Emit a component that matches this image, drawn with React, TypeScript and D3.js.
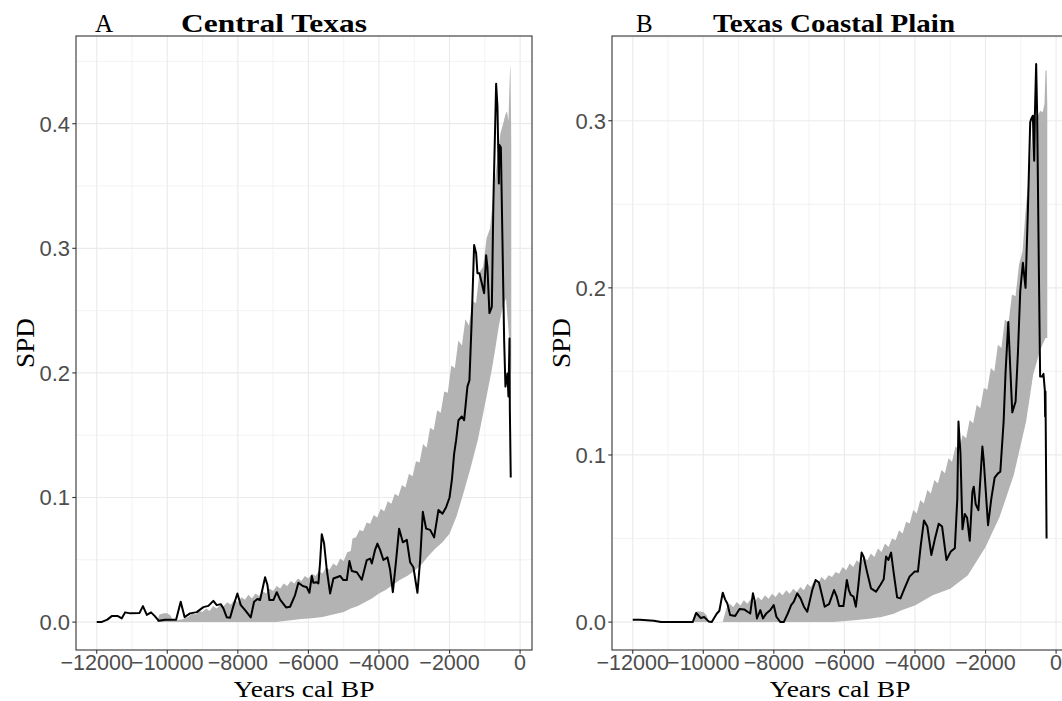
import React from 'react';
import * as d3 from 'd3';

// ---------- data ----------
const xMajorTicks = [-12000, -10000, -8000, -6000, -4000, -2000, 0];
const xMinorTicks = [-11000, -9000, -7000, -5000, -3000, -1000];
const ctYMajor = [0, 0.1, 0.2, 0.3, 0.4];
const ctYMinor = [0.05, 0.15, 0.25, 0.35, 0.45];
const tcpYMajor = [0, 0.1, 0.2, 0.3];
const tcpYMinor = [0.05, 0.15, 0.25, 0.35];

// Central Texas SPD (years cal BP, SPD)
const ctLine: [number, number][] = [
  [-12000, 0], [-11870, 0], [-11700, 0.002], [-11575, 0.0048], [-11400, 0.0048], [-11290, 0.003],
  [-11195, 0.0078], [-11050, 0.007], [-10790, 0.0072], [-10690, 0.0128], [-10580, 0.0058],
  [-10460, 0.0078], [-10360, 0.005], [-10240, 0.001], [-10060, 0.0019], [-9750, 0.0019],
  [-9620, 0.0163], [-9510, 0.004], [-9355, 0.007], [-9165, 0.008], [-8977, 0.012], [-8836, 0.013],
  [-8694, 0.017], [-8598, 0.0136], [-8485, 0.0144], [-8410, 0.011], [-8314, 0.0038], [-8220, 0.0035],
  [-8127, 0.0128], [-8013, 0.023], [-7917, 0.0136], [-7795, 0.0096], [-7634, 0.0038], [-7540, 0.0163],
  [-7446, 0.0185], [-7370, 0.0177], [-7228, 0.036], [-7163, 0.03], [-7106, 0.0177], [-6993, 0.0177],
  [-6897, 0.024], [-6803, 0.018], [-6633, 0.0118], [-6520, 0.0123], [-6378, 0.0217], [-6284, 0.0316],
  [-6160, 0.029], [-6046, 0.028], [-5972, 0.0235], [-5904, 0.037], [-5859, 0.0316], [-5762, 0.032],
  [-5717, 0.031], [-5669, 0.048], [-5621, 0.0706], [-5555, 0.063], [-5479, 0.042], [-5385, 0.023],
  [-5291, 0.035], [-5195, 0.036], [-5102, 0.037], [-5008, 0.0337], [-4912, 0.0337], [-4838, 0.049],
  [-4770, 0.041], [-4628, 0.04], [-4487, 0.034], [-4345, 0.0498], [-4251, 0.051], [-4203, 0.047],
  [-4110, 0.058], [-4044, 0.063], [-3968, 0.058], [-3874, 0.0498], [-3760, 0.052], [-3684, 0.042],
  [-3607, 0.024], [-3514, 0.0498], [-3429, 0.075], [-3324, 0.064], [-3211, 0.066], [-3117, 0.048],
  [-3024, 0.044], [-2910, 0.0235], [-2833, 0.0498], [-2757, 0.0885], [-2664, 0.075], [-2550, 0.074],
  [-2437, 0.068], [-2314, 0.09], [-2200, 0.087], [-2100, 0.092], [-2000, 0.1], [-1930, 0.115],
  [-1870, 0.135], [-1813, 0.146], [-1747, 0.162], [-1651, 0.165], [-1586, 0.162], [-1493, 0.189],
  [-1436, 0.194], [-1368, 0.245], [-1303, 0.3026], [-1246, 0.296], [-1209, 0.28], [-1152, 0.28],
  [-1085, 0.272], [-1019, 0.264], [-963, 0.2945], [-926, 0.285], [-869, 0.248], [-801, 0.253],
  [-756, 0.339], [-679, 0.432], [-642, 0.414], [-602, 0.352], [-585, 0.383], [-545, 0.381],
  [-500, 0.3066], [-452, 0.226], [-415, 0.189], [-358, 0.1996], [-330, 0.181], [-300, 0.2277],
  [-290, 0.17], [-265, 0.116],
];
const ctUpper: [number, number][] = [
  [-10300, 0], [-10220, 0.006], [-10100, 0.007], [-10000, 0.007], [-9900, 0.005], [-9850, 0.001],
  [-9600, 0.002], [-9500, 0.003], [-9400, 0.004], [-9300, 0.007], [-9200, 0.006], [-9100, 0.009],
  [-9000, 0.008], [-8900, 0.011], [-8800, 0.009], [-8700, 0.013], [-8600, 0.011], [-8500, 0.014],
  [-8400, 0.013], [-8300, 0.016], [-8200, 0.014], [-8100, 0.018], [-8000, 0.016], [-7900, 0.02],
  [-7800, 0.018], [-7700, 0.022], [-7600, 0.019], [-7500, 0.023], [-7400, 0.021], [-7300, 0.025],
  [-7200, 0.023], [-7100, 0.027], [-7000, 0.025], [-6900, 0.029], [-6800, 0.027], [-6700, 0.031],
  [-6600, 0.029], [-6500, 0.033], [-6400, 0.031], [-6300, 0.035], [-6200, 0.033], [-6100, 0.037],
  [-6000, 0.035], [-5900, 0.039], [-5800, 0.037], [-5700, 0.041], [-5600, 0.039], [-5500, 0.044],
  [-5400, 0.042], [-5300, 0.047], [-5200, 0.045], [-5100, 0.051], [-5000, 0.049], [-4900, 0.056],
  [-4800, 0.057], [-4750, 0.067], [-4650, 0.068], [-4550, 0.074], [-4450, 0.073], [-4350, 0.08],
  [-4250, 0.079], [-4150, 0.086], [-4050, 0.084], [-3950, 0.091], [-3850, 0.089], [-3750, 0.097],
  [-3650, 0.095], [-3550, 0.103], [-3450, 0.101], [-3350, 0.11], [-3250, 0.108], [-3150, 0.119],
  [-3050, 0.117], [-2950, 0.129], [-2850, 0.128], [-2750, 0.143], [-2650, 0.14], [-2550, 0.156],
  [-2450, 0.154], [-2350, 0.17], [-2250, 0.168], [-2150, 0.185], [-2050, 0.184], [-1950, 0.206],
  [-1850, 0.204], [-1750, 0.226], [-1650, 0.222], [-1550, 0.243], [-1450, 0.238], [-1350, 0.258],
  [-1250, 0.256], [-1150, 0.281], [-1050, 0.285], [-950, 0.308], [-850, 0.316], [-750, 0.345],
  [-650, 0.37], [-560, 0.392], [-480, 0.4], [-420, 0.407], [-370, 0.41], [-330, 0.402],
  [-290, 0.44], [-275, 0.448], [-255, 0.4], [-250, 0.38],
];
const ctLower: [number, number][] = [
  [-10300, 0], [-6900, 0], [-6800, 0.0005], [-6500, 0.0015], [-6200, 0.0025], [-5900, 0.003],
  [-5600, 0.004], [-5300, 0.006], [-5000, 0.008], [-4800, 0.011], [-4600, 0.013], [-4400, 0.016],
  [-4200, 0.019], [-4000, 0.023], [-3800, 0.026], [-3600, 0.03], [-3400, 0.034], [-3200, 0.037],
  [-3000, 0.041], [-2800, 0.046], [-2600, 0.053], [-2400, 0.059], [-2200, 0.064], [-2000, 0.071],
  [-1800, 0.085], [-1600, 0.104], [-1400, 0.124], [-1200, 0.146], [-1000, 0.174], [-800, 0.203],
  [-700, 0.22], [-600, 0.238], [-500, 0.252], [-400, 0.26], [-330, 0.235], [-250, 0.2],
];

// Texas Coastal Plain SPD
const tcpLine: [number, number][] = [
  [-12000, 0.0014], [-11800, 0.0014], [-11400, 0.0008], [-11200, 0], [-10300, 0], [-10200, 0.0055],
  [-10130, 0.0038], [-10070, 0.0024], [-9970, 0.003], [-9850, 0.0004], [-9760, 0], [-9620, 0.005],
  [-9544, 0.0068], [-9449, 0.0176], [-9382, 0.0136], [-9316, 0.011], [-9240, 0.0042], [-9097, 0.0036],
  [-8973, 0.0078], [-8840, 0.0076], [-8745, 0.0062], [-8669, 0.0052], [-8593, 0.0172], [-8546, 0.013],
  [-8479, 0.0022], [-8384, 0.0072], [-8308, 0.0022], [-8213, 0.0052], [-8099, 0.0072], [-8004, 0.0102],
  [-7928, 0.0032], [-7814, 0], [-7719, 0], [-7604, 0.0052], [-7509, 0.0102], [-7433, 0.0122],
  [-7338, 0.0172], [-7243, 0.0142], [-7148, 0.0092], [-7053, 0.0062], [-6911, 0.0192], [-6816, 0.0252],
  [-6720, 0.0236], [-6625, 0.0152], [-6559, 0.0092], [-6435, 0.0108], [-6293, 0.0192], [-6217, 0.0152],
  [-6150, 0.0096], [-6027, 0.0096], [-5931, 0.0252], [-5874, 0.0192], [-5817, 0.0162], [-5741, 0.0152],
  [-5675, 0.0092], [-5608, 0.0212], [-5513, 0.0416], [-5456, 0.0392], [-5361, 0.0302], [-5247, 0.0202],
  [-5104, 0.0182], [-4981, 0.0222], [-4886, 0.0256], [-4819, 0.0392], [-4753, 0.0372], [-4677, 0.0416],
  [-4601, 0.0292], [-4506, 0.0148], [-4411, 0.0142], [-4296, 0.0202], [-4154, 0.0272], [-4011, 0.0302],
  [-3916, 0.0302], [-3840, 0.0452], [-3745, 0.0608], [-3650, 0.0572], [-3536, 0.0402], [-3441, 0.0492],
  [-3327, 0.0588], [-3232, 0.0572], [-3108, 0.0372], [-2985, 0.0422], [-2870, 0.0442], [-2800, 0.074],
  [-2767, 0.12], [-2711, 0.101], [-2654, 0.0555], [-2588, 0.0647], [-2522, 0.0624], [-2447, 0.0487],
  [-2372, 0.078], [-2334, 0.081], [-2278, 0.0705], [-2202, 0.067], [-2089, 0.105], [-2052, 0.097],
  [-1929, 0.058], [-1835, 0.074], [-1741, 0.0865], [-1647, 0.089], [-1581, 0.09], [-1487, 0.12],
  [-1431, 0.15], [-1355, 0.1795], [-1299, 0.152], [-1242, 0.1255], [-1148, 0.132], [-1082, 0.161],
  [-1016, 0.198], [-941, 0.215], [-866, 0.2], [-800, 0.246], [-734, 0.299], [-706, 0.301],
  [-659, 0.303], [-621, 0.276], [-602, 0.303], [-565, 0.334], [-536, 0.303], [-489, 0.212],
  [-452, 0.147], [-395, 0.147], [-358, 0.1485], [-320, 0.139], [-311, 0.123], [-301, 0.138],
  [-270, 0.05],
];
const tcpUpper: [number, number][] = [
  [-10300, 0], [-10250, 0.005], [-10150, 0.0065], [-10000, 0.006], [-9900, 0.004], [-9850, 0],
  [-9450, 0], [-9350, 0.008], [-9250, 0.011], [-9150, 0.009], [-9050, 0.012], [-8950, 0.01],
  [-8850, 0.013], [-8750, 0.011], [-8650, 0.014], [-8550, 0.012], [-8450, 0.015], [-8350, 0.013],
  [-8250, 0.016], [-8150, 0.014], [-8050, 0.017], [-7950, 0.015], [-7850, 0.018], [-7750, 0.016],
  [-7650, 0.019], [-7550, 0.017], [-7450, 0.02], [-7350, 0.018], [-7250, 0.021], [-7150, 0.019],
  [-7050, 0.023], [-6950, 0.021], [-6850, 0.025], [-6750, 0.023], [-6650, 0.027], [-6550, 0.025],
  [-6450, 0.028], [-6350, 0.027], [-6250, 0.03], [-6150, 0.029], [-6050, 0.033], [-5950, 0.031],
  [-5850, 0.035], [-5750, 0.033], [-5650, 0.037], [-5550, 0.035], [-5450, 0.039], [-5350, 0.037],
  [-5250, 0.041], [-5150, 0.039], [-5050, 0.044], [-4950, 0.042], [-4850, 0.047], [-4750, 0.045],
  [-4650, 0.05], [-4550, 0.049], [-4450, 0.055], [-4350, 0.053], [-4250, 0.06], [-4150, 0.059],
  [-4050, 0.067], [-3950, 0.065], [-3850, 0.073], [-3750, 0.071], [-3650, 0.079], [-3550, 0.077],
  [-3450, 0.085], [-3350, 0.083], [-3250, 0.091], [-3150, 0.089], [-3050, 0.098], [-2950, 0.096],
  [-2850, 0.105], [-2750, 0.103], [-2650, 0.112], [-2550, 0.11], [-2450, 0.121], [-2350, 0.119],
  [-2250, 0.13], [-2150, 0.128], [-2050, 0.14], [-1950, 0.139], [-1850, 0.152], [-1750, 0.15],
  [-1650, 0.166], [-1550, 0.164], [-1450, 0.181], [-1350, 0.179], [-1250, 0.196], [-1150, 0.195],
  [-1050, 0.214], [-950, 0.222], [-850, 0.25], [-750, 0.27], [-650, 0.3], [-550, 0.302],
  [-450, 0.306], [-380, 0.305], [-330, 0.31], [-300, 0.33], [-270, 0.33], [-250, 0.31],
];
const tcpLower: [number, number][] = [
  [-10300, 0], [-6300, 0], [-5800, 0.001], [-5300, 0.002], [-4950, 0.003], [-4600, 0.005],
  [-4400, 0.007], [-4000, 0.01], [-3500, 0.016], [-3000, 0.02], [-2500, 0.028], [-2000, 0.045],
  [-1600, 0.063], [-1200, 0.088], [-850, 0.12], [-650, 0.148], [-450, 0.163], [-300, 0.17],
  [-250, 0.17],
];

// ---------- drawing ----------
const SERIF = '"Liberation Serif", "DejaVu Serif", serif';
const SANS = '"Liberation Sans", Arial, sans-serif';
const GRID = '#ebebeb';
const TOP = 36;
const BOTTOM = 650;

type Pt = [number, number];

interface PanelProps {
  left: number;
  width: number;
  line: Pt[];
  upper: Pt[];
  lower: Pt[];
  yMajor: number[];
  yMinor: number[];
  tag: string;
  tagX: number;
  title: string;
  titleX: number;
  titleLen: number;
}

function Panel(p: PanelProps) {
  const all = [...p.line, ...p.upper, ...p.lower];
  const [x0, x1] = d3.extent(all, (d) => d[0]) as [number, number];
  const [y0, y1] = d3.extent(all, (d) => d[1]) as [number, number];
  const ex = (x1 - x0) * 0.05;
  const ey = (y1 - y0) * 0.05;
  const right = p.left + p.width;
  const x = d3.scaleLinear().domain([x0 - ex, x1 + ex]).range([p.left, right]);
  const y = d3.scaleLinear().domain([y0 - ey, y1 + ey]).range([BOTTOM, TOP]);

  const lineGen = d3.line<Pt>().x((d) => x(d[0])).y((d) => y(d[1]));
  const ribbonPath = lineGen([...p.upper, ...p.lower.slice().reverse()]) + 'Z';
  const fx = d3.format('d');
  const fy = d3.format('.1f');
  const yIn = (v: number) => v >= y.domain()[0] && v <= y.domain()[1];
  const xIn = (v: number) => v >= x.domain()[0] && v <= x.domain()[1];
  const cx = (p.left + right) / 2;
  const cy = (TOP + BOTTOM) / 2;

  return (
    <g>
      <defs>
        <clipPath id={'clip' + p.tag}>
          <rect x={p.left} y={TOP} width={p.width} height={BOTTOM - TOP} />
        </clipPath>
      </defs>
      <rect x={p.left} y={TOP} width={p.width} height={BOTTOM - TOP} fill="#fff" />
      {p.yMinor.filter(yIn).map((v) => (
        <line key={'ym' + v} x1={p.left} x2={right} y1={y(v)} y2={y(v)} stroke={GRID} strokeWidth={0.6} />
      ))}
      {xMinorTicks.filter(xIn).map((v) => (
        <line key={'xm' + v} x1={x(v)} x2={x(v)} y1={TOP} y2={BOTTOM} stroke={GRID} strokeWidth={0.6} />
      ))}
      {p.yMajor.map((v) => (
        <line key={'y' + v} x1={p.left} x2={right} y1={y(v)} y2={y(v)} stroke={GRID} strokeWidth={1.2} />
      ))}
      {xMajorTicks.map((v) => (
        <line key={'x' + v} x1={x(v)} x2={x(v)} y1={TOP} y2={BOTTOM} stroke={GRID} strokeWidth={1.2} />
      ))}
      <g clipPath={`url(#clip${p.tag})`}>
        <path d={ribbonPath} fill="#b3b3b3" stroke="none" />
        <path d={lineGen(p.line) || ''} fill="none" stroke="#000" strokeWidth={2} strokeLinejoin="round" />
      </g>
      <rect x={p.left} y={TOP} width={p.width} height={BOTTOM - TOP} fill="none" stroke="#333" strokeWidth={1.1} />
      {p.yMajor.map((v) => (
        <g key={'yt' + v}>
          <line x1={p.left - 3.7} x2={p.left} y1={y(v)} y2={y(v)} stroke="#333" strokeWidth={1.1} />
          <text x={p.left - 6} y={y(v) + 7.8} textAnchor="end" fontFamily={SANS} fontSize={22} fill="#4d4d4d">
            {fy(v)}
          </text>
        </g>
      ))}
      {xMajorTicks.map((v) => (
        <g key={'xt' + v}>
          <line x1={x(v)} x2={x(v)} y1={BOTTOM} y2={BOTTOM + 3.7} stroke="#333" strokeWidth={1.1} />
          <text x={x(v)} y={BOTTOM + 20} textAnchor="middle" fontFamily={SANS} fontSize={21.5} fill="#4d4d4d">
            {fx(v)}
          </text>
        </g>
      ))}
      <text x={p.tagX} y={32} fontFamily={SERIF} fontSize={25} fill="#000">
        {p.tag}
      </text>
      <text x={p.titleX} y={32} fontFamily={SERIF} fontSize={25} fontWeight="bold" fill="#000"
        textLength={p.titleLen} lengthAdjust="spacingAndGlyphs">
        {p.title}
      </text>
      <text x={cx} y={697} textAnchor="middle" fontFamily={SERIF} fontSize={23.5} fill="#000"
        textLength={141} lengthAdjust="spacingAndGlyphs">
        Years cal BP
      </text>
      <text transform={`translate(${p.left - 42},${cy}) rotate(-90)`} textAnchor="middle" fontFamily={SERIF}
        fontSize={25} fill="#000" textLength={50} lengthAdjust="spacingAndGlyphs">
        SPD
      </text>
    </g>
  );
}

export default function App() {
  return (
    <svg width={1062} height={701} style={{ position: 'absolute', left: 0, top: 0, background: '#fff' }}>
      <rect x={0} y={0} width={1062} height={701} fill="#fff" />
      <Panel left={76} width={456} line={ctLine} upper={ctUpper} lower={ctLower} yMajor={ctYMajor}
        yMinor={ctYMinor} tag="A" tagX={95} title="Central Texas" titleX={181} titleLen={186} />
      <Panel left={612} width={456} line={tcpLine} upper={tcpUpper} lower={tcpLower} yMajor={tcpYMajor}
        yMinor={tcpYMinor} tag="B" tagX={636} title="Texas Coastal Plain" titleX={713} titleLen={242} />
    </svg>
  );
}
